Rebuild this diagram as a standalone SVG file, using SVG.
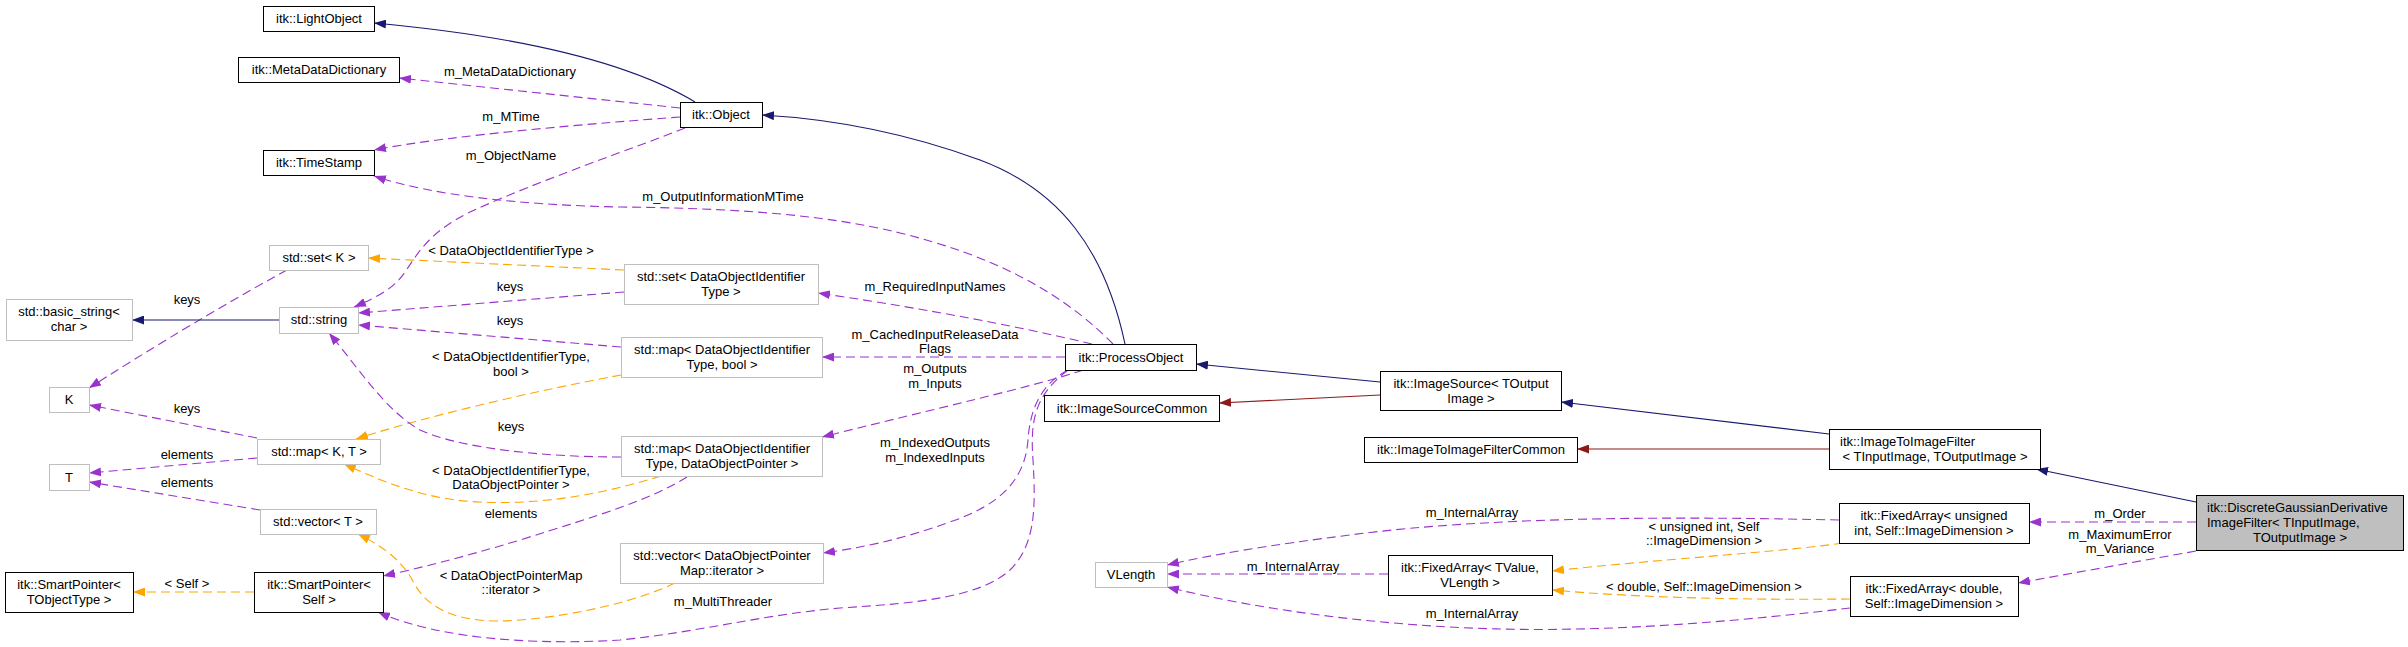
<svg xmlns="http://www.w3.org/2000/svg" width="2408" height="647" viewBox="0 0 2408 647">
<style>
text { font-family: "Liberation Sans", Arial, sans-serif; font-size: 13px; fill: #000; }
.c { text-anchor: middle; }
.nb { fill: #fff; stroke: #000; stroke-width: 1; }
.ng { fill: #fff; stroke: #bfbfbf; stroke-width: 1; }
.nf { fill: #bfbfbf; stroke: #000; stroke-width: 1; }
.e { fill: none; stroke-width: 1.1; }
.inh { stroke: #191970; marker-end: url(#aN); }
.red { stroke: #8b1a1a; marker-end: url(#aR); }
.use { stroke: #9a32cd; stroke-dasharray: 9,5; marker-end: url(#aP); }
.tpl { stroke: #ffa500; stroke-dasharray: 9,5; marker-end: url(#aO); }
</style>
<defs>
<marker id="aN" viewBox="0 0 12 9" refX="12" refY="4.5" markerWidth="12" markerHeight="9" markerUnits="userSpaceOnUse" orient="auto"><path d="M0,0L12,4.5L0,9z" fill="#191970"/></marker>
<marker id="aR" viewBox="0 0 12 9" refX="12" refY="4.5" markerWidth="12" markerHeight="9" markerUnits="userSpaceOnUse" orient="auto"><path d="M0,0L12,4.5L0,9z" fill="#8b1a1a"/></marker>
<marker id="aP" viewBox="0 0 12 9" refX="12" refY="4.5" markerWidth="12" markerHeight="9" markerUnits="userSpaceOnUse" orient="auto"><path d="M0,0L12,4.5L0,9z" fill="#9a32cd"/></marker>
<marker id="aO" viewBox="0 0 12 9" refX="12" refY="4.5" markerWidth="12" markerHeight="9" markerUnits="userSpaceOnUse" orient="auto"><path d="M0,0L12,4.5L0,9z" fill="#ffa500"/></marker>
</defs>
<rect x="0" y="0" width="2408" height="647" fill="#fff"/>

<g id="connectors">
<path class="e inh" d="M695,102 C650,75 560,40 374,23"/>
<path class="e inh" d="M1125,344 C1105,250 1060,190 980,160 C920,138 850,120 762,115"/>
<path class="e inh" d="M1380,382 L1196,364"/>
<path class="e red" d="M1380,395 L1219,403"/>
<path class="e inh" d="M1829,434 L1561,402"/>
<path class="e red" d="M1829,449 L1577,449"/>
<path class="e inh" d="M2196,502 L2036,469"/>
<path class="e use" d="M2196,522 L2029,522"/>
<path class="e use" d="M2196,551 L2018,583"/>
<path class="e tpl" d="M1843,543 C1780,552 1650,560 1552,571"/>
<path class="e tpl" d="M1850,599 C1750,600 1640,598 1552,590"/>
<path class="e use" d="M1839,520 C1700,517 1500,515 1350,535 C1270,545 1210,555 1167,565"/>
<path class="e use" d="M1388,574 L1167,574"/>
<path class="e use" d="M1850,608 C1750,620 1620,632 1500,629 C1380,626 1260,610 1167,587"/>
<path class="e use" d="M680,108 L399,78"/>
<path class="e use" d="M680,117 C600,123 450,135 374,150"/>
<path class="e use" d="M685,128 C640,146 540,180 470,212 C430,232 420,250 405,272 C395,287 380,296 354,307"/>
<path class="e use" d="M1113,344 C1060,290 990,255 900,233 C820,213 720,208 620,207 C520,205 430,195 374,176"/>
<path class="e use" d="M1092,344 C1000,322 900,305 818,293"/>
<path class="e tpl" d="M624,270 L368,258"/>
<path class="e use" d="M624,292 L358,313"/>
<path class="e use" d="M621,347 L358,325"/>
<path class="e tpl" d="M621,375 C540,390 430,415 356,439"/>
<path class="e use" d="M1065,357 L822,357"/>
<path class="e use" d="M1083,370 C1040,385 930,410 822,437"/>
<path class="e use" d="M621,457 C540,457 460,448 420,430 C385,410 360,370 329,333"/>
<path class="e tpl" d="M661,476 C600,495 540,505 480,502 C430,500 390,485 344,464"/>
<path class="e use" d="M687,477 C650,500 600,515 520,540 C460,558 420,568 383,576"/>
<path class="e tpl" d="M675,583 C640,600 580,615 520,620 C460,625 430,610 415,585 C405,565 390,550 358,534"/>
<path class="e use" d="M1068,370 C1040,385 1030,410 1028,440 C1025,480 1000,505 950,522 C900,540 860,548 823,553"/>
<path class="e use" d="M1068,370 C1035,395 1030,420 1033,460 C1036,510 1035,545 1010,570 C980,597 920,603 840,608 C760,615 700,632 620,640 C540,645 440,640 378,612"/>
<path class="e use" d="M287,270 C250,290 180,330 89,388"/>
<path class="e inh" d="M279,320 L132,320"/>
<path class="e use" d="M257,438 L89,405"/>
<path class="e use" d="M257,458 L89,473"/>
<path class="e use" d="M260,510 L89,482"/>
<path class="e tpl" d="M254,592 L133,592"/>
</g>

<g id="edge-labels">
<text class="c" x="510" y="76">m_MetaDataDictionary</text>
<text class="c" x="511" y="121">m_MTime</text>
<text class="c" x="511" y="160">m_ObjectName</text>
<text class="c" x="723" y="201">m_OutputInformationMTime</text>
<text class="c" x="511" y="255">&lt; DataObjectIdentifierType &gt;</text>
<text class="c" x="935" y="291">m_RequiredInputNames</text>
<text class="c" x="510" y="291">keys</text>
<text class="c" x="187" y="304">keys</text>
<text class="c" x="510" y="325">keys</text>
<text class="c" x="935" y="339">m_CachedInputReleaseData</text>
<text class="c" x="935" y="353">Flags</text>
<text class="c" x="511" y="361">&lt; DataObjectIdentifierType,</text>
<text class="c" x="511" y="376">bool &gt;</text>
<text class="c" x="935" y="373">m_Outputs</text>
<text class="c" x="935" y="388">m_Inputs</text>
<text class="c" x="187" y="413">keys</text>
<text class="c" x="511" y="431">keys</text>
<text class="c" x="935" y="447">m_IndexedOutputs</text>
<text class="c" x="935" y="462">m_IndexedInputs</text>
<text class="c" x="187" y="459">elements</text>
<text class="c" x="511" y="475">&lt; DataObjectIdentifierType,</text>
<text class="c" x="511" y="489">DataObjectPointer &gt;</text>
<text class="c" x="187" y="487">elements</text>
<text class="c" x="511" y="518">elements</text>
<text class="c" x="511" y="580">&lt; DataObjectPointerMap</text>
<text class="c" x="511" y="594">::iterator &gt;</text>
<text class="c" x="187" y="588">&lt; Self &gt;</text>
<text class="c" x="723" y="606">m_MultiThreader</text>
<text class="c" x="1472" y="517">m_InternalArray</text>
<text class="c" x="1704" y="531">&lt; unsigned int, Self</text>
<text class="c" x="1704" y="545">::ImageDimension &gt;</text>
<text class="c" x="1293" y="571">m_InternalArray</text>
<text class="c" x="1704" y="591">&lt; double, Self::ImageDimension &gt;</text>
<text class="c" x="1472" y="618">m_InternalArray</text>
<text class="c" x="2120" y="518">m_Order</text>
<text class="c" x="2120" y="539">m_MaximumError</text>
<text class="c" x="2120" y="553">m_Variance</text>
</g>

<g id="n_lightobject"><rect class="nb" x="263.5" y="6.5" width="111" height="25"/><text class="c" x="319" y="23">itk::LightObject</text></g>
<g id="n_metadatadictionary"><rect class="nb" x="238.5" y="57.5" width="161" height="25"/><text class="c" x="319" y="74">itk::MetaDataDictionary</text></g>
<g id="n_timestamp"><rect class="nb" x="263.5" y="150.5" width="111" height="25"/><text class="c" x="319" y="167">itk::TimeStamp</text></g>
<g id="n_object"><rect class="nb" x="680.5" y="102.5" width="82" height="25"/><text class="c" x="721" y="119">itk::Object</text></g>
<g id="n_setK"><rect class="ng" x="269.5" y="245.5" width="99" height="25"/><text class="c" x="319" y="262">std::set&lt; K &gt;</text></g>
<g id="n_basicstring"><rect class="ng" x="6.5" y="299.5" width="126" height="41"/><text class="c" x="69" y="316">std::basic_string&lt;</text><text class="c" x="69" y="331">char &gt;</text></g>
<g id="n_string"><rect class="ng" x="279.5" y="307.5" width="79" height="26"/><text class="c" x="319" y="324">std::string</text></g>
<g id="n_setDOI"><rect class="ng" x="624.5" y="264.5" width="194" height="40"/><text class="c" x="721" y="281">std::set&lt; DataObjectIdentifier</text><text class="c" x="721" y="296">Type &gt;</text></g>
<g id="n_K"><rect class="ng" x="49.5" y="387.5" width="40" height="25"/><text class="c" x="69" y="404">K</text></g>
<g id="n_mapKT"><rect class="ng" x="257.5" y="439.5" width="123" height="25"/><text class="c" x="319" y="456">std::map&lt; K, T &gt;</text></g>
<g id="n_T"><rect class="ng" x="49.5" y="464.5" width="40" height="26"/><text class="c" x="69" y="482">T</text></g>
<g id="n_vectorT"><rect class="ng" x="260.5" y="509.5" width="116" height="25"/><text class="c" x="318" y="526">std::vector&lt; T &gt;</text></g>
<g id="n_spTObjectType"><rect class="nb" x="5.5" y="572.5" width="128" height="40"/><text class="c" x="69" y="589">itk::SmartPointer&lt;</text><text class="c" x="69" y="604">TObjectType &gt;</text></g>
<g id="n_spSelf"><rect class="nb" x="254.5" y="572.5" width="129" height="40"/><text class="c" x="319" y="589">itk::SmartPointer&lt;</text><text class="c" x="319" y="604">Self &gt;</text></g>
<g id="n_mapDOIbool"><rect class="ng" x="621.5" y="337.5" width="201" height="40"/><text class="c" x="722" y="354">std::map&lt; DataObjectIdentifier</text><text class="c" x="722" y="369">Type, bool &gt;</text></g>
<g id="n_mapDOIDOP"><rect class="ng" x="621.5" y="436.5" width="201" height="40"/><text class="c" x="722" y="453">std::map&lt; DataObjectIdentifier</text><text class="c" x="722" y="468">Type, DataObjectPointer &gt;</text></g>
<g id="n_vectorDOP"><rect class="ng" x="620.5" y="543.5" width="203" height="40"/><text class="c" x="722" y="560">std::vector&lt; DataObjectPointer</text><text class="c" x="722" y="575">Map::iterator &gt;</text></g>
<g id="n_processobject"><rect class="nb" x="1065.5" y="344.5" width="131" height="26"/><text class="c" x="1131" y="362">itk::ProcessObject</text></g>
<g id="n_imagesourcecommon"><rect class="nb" x="1044.5" y="395.5" width="175" height="26"/><text class="c" x="1132" y="413">itk::ImageSourceCommon</text></g>
<g id="n_vlength"><rect class="ng" x="1095.5" y="562.5" width="72" height="25"/><text class="c" x="1131" y="579">VLength</text></g>
<g id="n_imagesource"><rect class="nb" x="1380.5" y="371.5" width="181" height="39"/><text class="c" x="1471" y="388">itk::ImageSource&lt; TOutput</text><text class="c" x="1471" y="403">Image &gt;</text></g>
<g id="n_i2ifcommon"><rect class="nb" x="1364.5" y="437.5" width="213" height="25"/><text class="c" x="1471" y="454">itk::ImageToImageFilterCommon</text></g>
<g id="n_fixedTValue"><rect class="nb" x="1388.5" y="555.5" width="164" height="40"/><text class="c" x="1470" y="572">itk::FixedArray&lt; TValue,</text><text class="c" x="1470" y="587">VLength &gt;</text></g>
<g id="n_i2if"><rect class="nb" x="1829.5" y="429.5" width="211" height="40"/><text x="1840" y="446">itk::ImageToImageFilter</text><text class="c" x="1935" y="461">&lt; TInputImage, TOutputImage &gt;</text></g>
<g id="n_fixedUInt"><rect class="nb" x="1839.5" y="503.5" width="190" height="40"/><text class="c" x="1934" y="520">itk::FixedArray&lt; unsigned</text><text class="c" x="1934" y="535"> int, Self::ImageDimension &gt;</text></g>
<g id="n_fixedDouble"><rect class="nb" x="1850.5" y="576.5" width="168" height="40"/><text class="c" x="1934" y="593">itk::FixedArray&lt; double,</text><text class="c" x="1934" y="608">Self::ImageDimension &gt;</text></g>
<g id="n_dgd"><rect class="nf" x="2196.5" y="495.5" width="207" height="55"/><text x="2207" y="512">itk::DiscreteGaussianDerivative</text><text x="2207" y="527">ImageFilter&lt; TInputImage,</text><text class="c" x="2300" y="542">TOutputImage &gt;</text></g>
</svg>
